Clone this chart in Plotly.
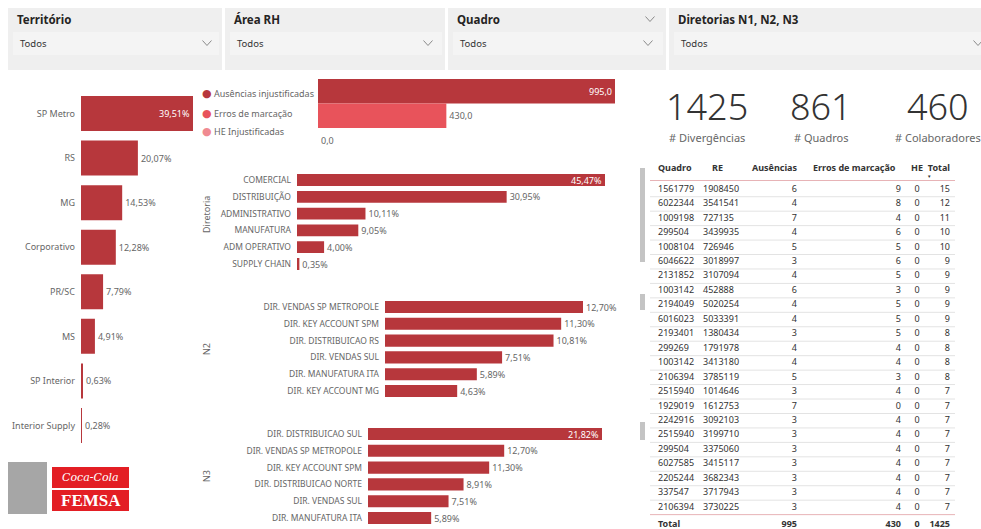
import plotly.graph_objects as go

W, H = 981, 529

# ---------------- data ----------------
filtros = ["Território", "Área RH", "Quadro", "Diretorias N1, N2, N3"]
filtro_valor = "Todos"

territorio = ["SP Metro", "RS", "MG", "Corporativo", "PR/SC", "MS", "SP Interior", "Interior Supply"]
territorio_pct = [39.51, 20.07, 14.53, 12.28, 7.79, 4.91, 0.63, 0.28]

tipos = ["Ausências injustificadas", "Erros de marcação", "HE Injustificadas"]
tipos_val = [995.0, 430.0, 0.0]

diretoria = ["COMERCIAL", "DISTRIBUIÇÃO", "ADMINISTRATIVO", "MANUFATURA", "ADM OPERATIVO", "SUPPLY CHAIN"]
diretoria_pct = [45.47, 30.95, 10.11, 9.05, 4.00, 0.35]

n2 = ["DIR. VENDAS SP METROPOLE", "DIR. KEY ACCOUNT SPM", "DIR. DISTRIBUICAO RS",
      "DIR. VENDAS SUL", "DIR. MANUFATURA ITA", "DIR. KEY ACCOUNT MG"]
n2_pct = [12.70, 11.30, 10.81, 7.51, 5.89, 4.63]

n3 = ["DIR. DISTRIBUICAO SUL", "DIR. VENDAS SP METROPOLE", "DIR. KEY ACCOUNT SPM",
      "DIR. DISTRIBUICAO NORTE", "DIR. VENDAS SUL", "DIR. MANUFATURA ITA"]
n3_pct = [21.82, 12.70, 11.30, 8.91, 7.51, 5.89]

kpi_valores = [1425, 861, 460]
kpi_rotulos = ["# Divergências", "# Quadros", "# Colaboradores"]

tab_cabecalho = ["Quadro", "RE", "Ausências", "Erros de marcação", "HE", "Total"]
tab_quadro = [1561779, 6022344, 1009198, 299504, 1008104, 6046622, 2131852, 1003142, 2194049,
              6016023, 2193401, 299269, 1003142, 2106394, 2515940, 1929019, 2242916, 2515940,
              299504, 6027585, 2205244, 337547, 2106394]
tab_re = [1908450, 3541541, 727135, 3439935, 726946, 3018997, 3107094, 452888, 5020254,
          5033391, 1380434, 1791978, 3413180, 3785119, 1014646, 1612753, 3092103, 3199710,
          3375060, 3415117, 3682343, 3717943, 3730225]
tab_ausencias = [6, 4, 7, 4, 5, 3, 4, 6, 4, 4, 3, 4, 4, 5, 3, 7, 3, 3, 3, 3, 3, 3, 3]
tab_erros = [9, 8, 4, 6, 5, 6, 5, 3, 5, 5, 5, 4, 4, 3, 4, 0, 4, 4, 4, 4, 4, 4, 4]
tab_he = [0] * 23
tab_total = [15, 12, 11, 10, 10, 9, 9, 9, 9, 9, 8, 8, 8, 8, 7, 7, 7, 7, 7, 7, 7, 7, 7]

# ---------------- style ----------------
FONT = "Noto Sans"
RED = "#b7373c"
TIPO_CORES = ["#b7373c", "#e8535b", "#f08a91"]
GRAY_TXT = "#666666"
DARK_TXT = "#333333"
CLEAR = "rgba(0,0,0,0)"


def dx(a, b):
    return [a / W, b / W]


def dy(top, bottom):
    return [1 - bottom / H, 1 - top / H]


def px(x):
    return x / W


def py(y):
    return 1 - y / H


fig = go.Figure()


def bar_chart(idx, cats, vals, xdom, ydom, width, inside_max, fmt, colors=None,
              show_labels=True, tickfont_size=9):
    vmax = max(vals)
    pos = ["inside" if (inside_max and v == vmax) else "outside" for v in vals]
    tcol = ["white" if p == "inside" else GRAY_TXT for p in pos]
    sx = "" if idx == 1 else str(idx)
    fig.add_trace(go.Bar(
        x=vals, y=cats, orientation="h",
        marker=dict(color=colors if colors else RED, line=dict(width=0)),
        width=width,
        texttemplate=fmt, textposition=pos, insidetextanchor="end",
        textfont=dict(family=FONT, size=9, color=tcol),
        constraintext="none", cliponaxis=False, textangle=0,
        xaxis="x" + sx, yaxis="y" + sx, showlegend=False, hoverinfo="skip",
    ))
    fig.layout["xaxis" + sx] = dict(domain=xdom, range=[0, vmax], visible=False,
                                    anchor="y" + sx, fixedrange=True)
    fig.layout["yaxis" + sx] = dict(domain=ydom, type="category", autorange="reversed",
                                    anchor="x" + sx, showgrid=False, showline=False,
                                    zeroline=False, ticks="", showticklabels=show_labels,
                                    tickfont=dict(family=FONT, size=tickfont_size, color=GRAY_TXT),
                                    ticklabelstandoff=5, fixedrange=True)


bar_chart(1, territorio, territorio_pct, dx(81, 193), dy(91.2, 447.8), 0.785, True, "%{x:.2f}%")
bar_chart(2, tipos, tipos_val, dx(318, 615), dy(79, 152.5), 1.0, True, "%{x:.1f}",
          colors=TIPO_CORES, show_labels=False)
bar_chart(3, diretoria, diretoria_pct, dx(297, 605), dy(171.6, 272.4), 0.7, True, "%{x:.2f}%",
          tickfont_size=8.5)
bar_chart(4, n2, n2_pct, dx(385, 583), dy(298.6, 399.4), 0.72, False, "%{x:.2f}%",
          tickfont_size=8.5)
bar_chart(5, n3, n3_pct, dx(368, 602), dy(425.6, 526.4), 0.72, True, "%{x:.2f}%",
          tickfont_size=8.5)

# ---------------- table ----------------
nrows = len(tab_quadro)
b = lambda s: "<b>%s</b>" % s
col_vals = [
    [str(v) for v in tab_quadro] + [b("Total")],
    [str(v) for v in tab_re] + [""],
    [str(v) for v in tab_ausencias] + [b(int(tipos_val[0]))],
    [str(v) for v in tab_erros] + [b(int(tipos_val[1]))],
    [str(v) for v in tab_he] + [b(int(tipos_val[2]))],
    [str(v) for v in tab_total] + [b(int(sum(tipos_val)))],
]
TAB_TOP, HDR_H, ROW_H, TXT_C = 156, 21, 14.45, 12.5   # TXT_C: text centre below a cell top
TAB_X0, TAB_X1 = 650, 958
fig.add_trace(go.Table(
    domain=dict(x=dx(TAB_X0, TAB_X1), y=dy(TAB_TOP, H)),
    columnwidth=[45, 45, 65, 104, 16, 33],
    header=dict(values=[h.replace(" ", "\u00a0") for h in tab_cabecalho],
                align=["left", "center", "right", "left", "center", "right"],
                font=dict(family=FONT, size=9, color=DARK_TXT, weight="bold"),
                fill=dict(color=CLEAR), line=dict(color=CLEAR, width=0), height=HDR_H),
    cells=dict(values=col_vals,
               align=["left", "left", "right", "right", "center", "right"],
               font=dict(family=FONT, size=9, color=DARK_TXT),
               fill=dict(color=CLEAR), line=dict(color=CLEAR, width=0), height=ROW_H),
))

shapes = []
annotations = []

# table separators (between text rows)
first_center = TAB_TOP + HDR_H + TXT_C
for i in range(1, nrows):
    yy = first_center + (i - 1) * ROW_H + ROW_H / 2
    shapes.append(dict(type="line", xref="paper", yref="paper", x0=px(TAB_X0), x1=px(TAB_X1 - 3),
                       y0=py(yy), y1=py(yy), line=dict(color="#e3e3e3", width=1)))
for yy in [first_center - 9, first_center + (nrows - 1) * ROW_H + ROW_H / 2]:
    shapes.append(dict(type="line", xref="paper", yref="paper", x0=px(TAB_X0), x1=px(TAB_X1 - 3),
                       y0=py(yy), y1=py(yy), line=dict(color="#e7b3b6", width=1)))
annotations.append(dict(text="▼", x=px(929), y=py(TAB_TOP + TXT_C + 8), xref="paper",
                        yref="paper", xanchor="center", yanchor="middle",
                        showarrow=False, font=dict(family=FONT, size=4.5, color=DARK_TXT)))

# ---------------- filter panel ----------------
shapes.append(dict(type="rect", xref="paper", yref="paper", x0=px(8), x1=1, y0=py(70), y1=py(8),
                   fillcolor="#efefef", line=dict(width=0), layer="below"))
panels = [(8, 222), (225, 445), (448, 666), (669, 990)]
for i, (a, c) in enumerate(panels):
    if i > 0:
        shapes.append(dict(type="rect", xref="paper", yref="paper", x0=px(a - 3), x1=px(a),
                           y0=py(70), y1=py(8), fillcolor="white", line=dict(width=0), layer="below"))
    shapes.append(dict(type="rect", xref="paper", yref="paper", x0=px(a + 5), x1=px(min(c - 3, W)),
                       y0=py(55), y1=py(32), fillcolor="#f4f4f4", line=dict(width=0), layer="below"))
    annotations.append(dict(text=filtros[i], x=px(a + 7), y=py(19), xref="paper", yref="paper",
                            xanchor="left", yanchor="middle", showarrow=False,
                            font=dict(family=FONT, size=11.5, color="#252423", weight="bold")))
    annotations.append(dict(text=filtro_valor, x=px(a + 10), y=py(43), xref="paper", yref="paper",
                            xanchor="left", yanchor="middle", showarrow=False,
                            font=dict(family=FONT, size=9.5, color=DARK_TXT)))


def chevron(cx, cy):
    return dict(type="path", xref="paper", yref="paper",
                path="M %f,%f L %f,%f L %f,%f" % (px(cx - 4.5), py(cy - 2.5), px(cx), py(cy + 2.5),
                                                  px(cx + 4.5), py(cy - 2.5)),
                line=dict(color="#8a8a8a", width=1))


for cx, cy in [(207, 43), (428, 43), (648, 43), (650, 19), (978, 43)]:
    shapes.append(chevron(cx, cy))

# ---------------- legend of mini chart ----------------
for i, t in enumerate(tipos):
    yy = [93, 113, 131][i]
    annotations.append(dict(text="●", x=px(207), y=py(yy), xref="paper", yref="paper",
                            xanchor="center", yanchor="middle", showarrow=False,
                            font=dict(family="DejaVu Sans", size=11, color=TIPO_CORES[i])))
    annotations.append(dict(text=t, x=px(212), y=py(yy), xref="paper", yref="paper",
                            xanchor="left", yanchor="middle", showarrow=False,
                            font=dict(family=FONT, size=9, color=GRAY_TXT)))

# axis titles
for t, yy in [("Diretoria", 215), ("N2", 349), ("N3", 476)]:
    annotations.append(dict(text=t, x=px(206), y=py(yy), xref="paper", yref="paper",
                            xanchor="center", yanchor="middle", textangle=-90, showarrow=False,
                            font=dict(family=FONT, size=9, color=GRAY_TXT)))

# scrollbars of the visuals
for y0, y1 in [(168, 262), (294, 310), (422, 440)]:
    shapes.append(dict(type="rect", xref="paper", yref="paper", x0=px(640), x1=px(645),
                       y0=py(y1), y1=py(y0), fillcolor="#c4c4c4", line=dict(width=0)))

# ---------------- KPIs ----------------
for v, lab, cx in zip(kpi_valores, kpi_rotulos, [707, 821, 938]):
    annotations.append(dict(text=str(v), x=px(cx), y=py(106), xref="paper", yref="paper",
                            showarrow=False, xanchor="center", yanchor="middle",
                            font=dict(family=FONT, size=36, color=DARK_TXT, weight=300)))
    annotations.append(dict(text=lab, x=px(cx), y=py(137), xref="paper", yref="paper",
                            showarrow=False, xanchor="center", yanchor="middle",
                            font=dict(family=FONT, size=11, color=GRAY_TXT)))

# ---------------- logo ----------------
shapes.append(dict(type="rect", xref="paper", yref="paper", x0=px(8), x1=px(47), y0=py(514), y1=py(462),
                   fillcolor="#a6a6a6", line=dict(width=0)))
shapes.append(dict(type="rect", xref="paper", yref="paper", x0=px(52), x1=px(129), y0=py(488), y1=py(467),
                   fillcolor="#e31e24", line=dict(width=0)))
shapes.append(dict(type="rect", xref="paper", yref="paper", x0=px(52), x1=px(129), y0=py(511), y1=py(490),
                   fillcolor="#e31e24", line=dict(width=0)))
annotations.append(dict(text="<i>Coca-Cola</i>", x=px(90.5), y=py(477.5), xref="paper", yref="paper",
                        xanchor="center", yanchor="middle",
                        showarrow=False, font=dict(family="DejaVu Serif", size=11, color="white")))
annotations.append(dict(text="<b>FEMSA</b>", x=px(90.5), y=py(500.5), xref="paper", yref="paper",
                        xanchor="center", yanchor="middle",
                        showarrow=False, font=dict(family="Liberation Serif", size=17, color="white")))

fig.update_layout(
    width=W, height=H, margin=dict(l=0, r=0, t=0, b=0),
    paper_bgcolor="white", plot_bgcolor="white",
    separators=",.", showlegend=False,
    shapes=shapes, annotations=annotations,
    font=dict(family=FONT, color=GRAY_TXT),
)

fig.write_html("out.html", config={"displayModeBar": False},
               post_script="document.body.style.margin='0';document.body.style.overflow='hidden';")
